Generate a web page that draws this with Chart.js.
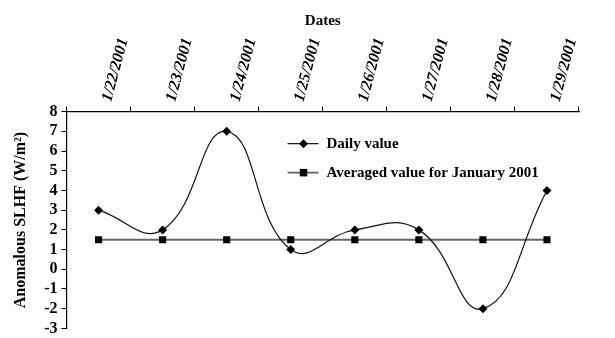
<!DOCTYPE html>
<html>
<head>
<meta charset="utf-8">
<script src="https://cdn.jsdelivr.net/npm/chart.js@4/dist/chart.umd.min.js"></script>
<style>
  html, body { margin: 0; padding: 0; background: #fff; }
  #wrap { width: 615px; height: 338px; position: relative; }
</style>
</head>
<body>
<div id="wrap"><canvas id="chart"></canvas></div>
<script>
// Данные графика
const dates = ['1/22/2001', '1/23/2001', '1/24/2001', '1/25/2001', '1/26/2001', '1/27/2001', '1/28/2001', '1/29/2001'];
const dailyValues = [3, 2, 7, 1, 2, 2, -2, 4];
const averagedValues = [1.5, 1.5, 1.5, 1.5, 1.5, 1.5, 1.5, 1.5];
const yTicks = [8, 7, 6, 5, 4, 3, 2, 1, 0, -1, -2, -3];

const serif = '"Liberation Serif", "Times New Roman", serif';

// Легенда внутри области графика
const insideLegend = {
    id: 'insideLegend',
    afterDatasetsDraw(chart) {
        const ctx = chart.ctx;
        const area = chart.chartArea;
        const x0 = area.left + 221;
        const rows = [area.top + 32, area.top + 61];
        ctx.save();
        chart.data.datasets.forEach((ds, i) => {
            const y = rows[i];
            ctx.strokeStyle = ds.borderColor;
            ctx.lineWidth = ds.borderWidth;
            ctx.beginPath();
            ctx.moveTo(x0, y);
            ctx.lineTo(x0 + 31, y);
            ctx.stroke();
            ctx.fillStyle = '#000';
            const cx = x0 + 16;
            const r = ds.pointRadius;
            ctx.beginPath();
            if (ds.pointStyle === 'rectRot') {
                ctx.moveTo(cx, y - r); ctx.lineTo(cx + r, y); ctx.lineTo(cx, y + r); ctx.lineTo(cx - r, y);
                ctx.closePath();
            } else {
                ctx.rect(cx - r * 0.75, y - r * 0.75, r * 1.5, r * 1.5);
            }
            ctx.fill();
            ctx.font = 'bold 15px ' + serif;
            ctx.textAlign = 'left';
            ctx.textBaseline = 'middle';
            ctx.fillText(ds.label, x0 + 39, y);
        });
        ctx.restore();
    }
};

new Chart(document.getElementById('chart').getContext('2d'), {
    type: 'line',
    data: {
        labels: dates,
        datasets: [{
            label: 'Daily value',
            data: dailyValues,
            borderColor: '#111',
            borderWidth: 1.2,
            tension: 0.45,
            pointStyle: 'rectRot',
            pointRadius: 4.5,
            pointBackgroundColor: '#000',
            pointBorderColor: '#000',
            pointBorderWidth: 0
        }, {
            label: 'Averaged value for January 2001',
            data: averagedValues,
            borderColor: '#666',
            borderWidth: 1.8,
            tension: 0,
            pointStyle: 'rect',
            pointRadius: 5,
            pointBackgroundColor: '#000',
            pointBorderColor: '#000',
            pointBorderWidth: 0
        }]
    },
    options: {
        responsive: true,
        maintainAspectRatio: false,
        animation: false,
        layout: { padding: { top: 8, right: 36, bottom: 0, left: 11 } },
        plugins: {
            legend: { display: false },
            tooltip: { enabled: false }
        },
        scales: {
            x: {
                position: 'top',
                offset: true,
                grid: { display: true, drawOnChartArea: false, tickLength: 5, color: '#000', offset: true },
                border: { display: true, color: '#000', width: 1.2 },
                ticks: {
                    color: '#000',
                    font: { family: serif, size: 16, weight: 'bold', style: 'italic' },
                    minRotation: 75,
                    maxRotation: 75,
                    labelOffset: 27,
                    padding: 3
                },
                title: {
                    display: true,
                    text: 'Dates',
                    color: '#000',
                    font: { family: serif, size: 15, weight: 'bold' },
                    padding: { top: 4, bottom: 3 }
                }
            },
            y: {
                min: Math.min(...yTicks),
                max: Math.max(...yTicks),
                afterBuildTicks: axis => { axis.ticks = yTicks.map(v => ({ value: v })); },
                grid: { display: true, drawOnChartArea: false, tickLength: 5, color: '#000' },
                border: { display: true, color: '#000', width: 1.2 },
                ticks: {
                    color: '#000',
                    autoSkip: false,
                    font: { family: serif, size: 16, weight: 'bold', lineHeight: 0.7 },
                    padding: 4
                },
                title: {
                    display: true,
                    text: 'Anomalous SLHF (W/m²)',
                    color: '#000',
                    font: { family: serif, size: 16, weight: 'bold' },
                    padding: { top: 0, bottom: 10 }
                }
            }
        }
    },
    plugins: [insideLegend]
});
</script>
</body>
</html>
